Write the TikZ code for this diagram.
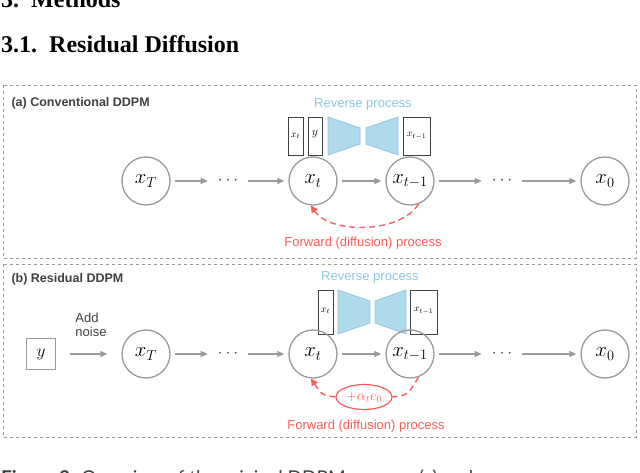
\documentclass[tikz,border=0pt]{standalone}
\usepackage{fontspec}
\setmainfont{Liberation Serif}
\newfontfamily\mysans{Liberation Sans}
\newfontfamily\capf{Lato}
\usetikzlibrary{arrows.meta,shapes.geometric}
\definecolor{cg}{HTML}{9A9A9A}
\definecolor{tg}{HTML}{404040}
\definecolor{bl}{HTML}{8CC8E2}
\definecolor{blf}{HTML}{AEDAEC}
\definecolor{rd}{HTML}{FF5A5A}
\begin{document}
\begin{tikzpicture}[x=1pt,y=-1pt,
  st/.style={circle,draw=cg,line width=1.3pt,minimum size=48pt,inner sep=0pt,font=\fontsize{20}{20}\selectfont},
  ar/.style={-{Triangle[length=7pt,width=6pt]},draw=cg,line width=1.2pt,shorten >=4pt,shorten <=4pt},
  panel/.style={draw=cg,dashed,line width=0.8pt},
  plab/.style={font=\mysans\bfseries\fontsize{12.5}{12.5}\selectfont,text=tg,anchor=west},
  rev/.style={font=\mysans\fontsize{13}{13}\selectfont,text=bl},
  fwd/.style={font=\mysans\fontsize{13}{13}\selectfont,text=rd},
  ibox/.style={draw=tg,line width=1pt,fill=white,inner sep=0pt,anchor=north west},
  trap/.style={draw=bl,fill=blf,line width=0.8pt},
  dots/.style={font=\fontsize{16}{16}\selectfont,text=tg,inner sep=6pt}]
\useasboundingbox (0,0) rectangle (640,473);
% headings
\node[anchor=base west,font=\bfseries\fontsize{24}{24}\selectfont,inner sep=0pt] (h0) at (1,8) {3.\ \ Methods};
\node[anchor=base west,font=\bfseries\fontsize{24}{24}\selectfont,inner sep=0pt] (h1) at (1,53) {3.1.\ \ Residual Diffusion};
\node[anchor=base west,font=\capf\fontsize{19}{19}\selectfont,inner sep=0pt,text=tg] (cap) at (1,484) {\textbf{Figure 2:} Overview of the original DDPM process (a) and};
% ---------- panel a
\draw[panel] (3,85) rectangle (636,258);
\node[plab] (la) at (8,103) {(a) Conventional DDPM};
\node[rev] (ra) at (363,104) {Reverse process};
\node[ibox,minimum width=15pt,minimum height=38pt] (a1) at (288,117) {};
\node[font=\fontsize{10}{10}\selectfont] (a1t) at (295.5,136) {$x_t$};
\node[ibox,minimum width=14pt,minimum height=38pt] (a2) at (308,117) {};
\node[font=\fontsize{12}{12}\selectfont] (a2t) at (315,134) {$y$};
\draw[trap] (328,117) -- (360,128) -- (360,144) -- (328,155) -- cycle;
\draw[trap] (366,128) -- (398,117) -- (398,155) -- (366,144) -- cycle;
\node[ibox,minimum width=27pt,minimum height=38pt] (a3) at (403,117) {};
\node[font=\fontsize{10}{10}\selectfont] (a3t) at (416.5,136) {$x_{t-1}$};
\node[st] (aT) at (146,181) {$x_T$};
\node[dots] (ad1) at (228,181) {$\cdots$};
\node[st] (at) at (313,181) {$x_t$};
\node[st] (at1) at (410,181) {$x_{t-1}$};
\node[dots] (ad2) at (502,181) {$\cdots$};
\node[st] (a0) at (605,181) {$x_0$};
\draw[ar] (aT) -- (ad1);
\draw[ar] (ad1) -- (at);
\draw[ar] (at) -- (at1);
\draw[ar] (at1) -- (ad2);
\draw[ar] (ad2) -- (a0);
\draw[rd,line width=1.4pt,dash pattern=on 6pt off 4pt,-{Triangle[length=7pt,width=7pt]}] (at1.-70) .. controls (400,234) and (330,234) .. (at.-95);
\node[fwd] (fa) at (363,243) {Forward (diffusion) process};
% ---------- panel b
\draw[panel] (3,264) rectangle (636,437);
\node[plab] (lb) at (8,279) {(b) Residual DDPM};
\node[rev] (rb) at (370,277) {Reverse process};
\node[ibox,minimum width=15pt,minimum height=44pt] (b1) at (318,290) {};
\node[font=\fontsize{10}{10}\selectfont] (b1t) at (325.5,311) {$x_t$};
\draw[trap] (338,290) -- (370,301) -- (370,323) -- (338,334) -- cycle;
\draw[trap] (375,301) -- (406,290) -- (406,334) -- (375,323) -- cycle;
\node[ibox,minimum width=27pt,minimum height=44pt] (b3) at (410,290) {};
\node[font=\fontsize{10}{10}\selectfont] (b3t) at (423.5,311) {$x_{t-1}$};
\node[draw=cg,line width=1.5pt,minimum width=29pt,minimum height=31pt,font=\fontsize{19}{19}\selectfont] (by) at (41,354) {$y$};
\node[font=\mysans\fontsize{13}{14}\selectfont,text=tg,align=left] (an) at (91,325) {Add\\noise};
\node[st] (bT) at (146,354) {$x_T$};
\node[dots] (bd1) at (228,354) {$\cdots$};
\node[st] (bt) at (313,354) {$x_t$};
\node[st] (bt1) at (410,354) {$x_{t-1}$};
\node[dots] (bd2) at (502,354) {$\cdots$};
\node[st] (b0) at (605,354) {$x_0$};
\draw[ar,shorten <=14pt,shorten >=14pt] (by) -- (bT);
\draw[ar] (bT) -- (bd1);
\draw[ar] (bd1) -- (bt);
\draw[ar] (bt) -- (bt1);
\draw[ar] (bt1) -- (bd2);
\draw[ar] (bd2) -- (b0);
\node[draw=rd,ellipse,line width=1.2pt,text=rd,inner sep=1pt,minimum width=56pt,minimum height=25pt,font=\fontsize{14}{14}\selectfont] (eb) at (364,397) {$+\alpha_t e_0$};
\draw[rd,line width=1.4pt,dash pattern=on 6pt off 4pt] (bt1.-70) .. controls (408,395) .. (eb.east);
\draw[rd,line width=1.4pt,dash pattern=on 6pt off 4pt,-{Triangle[length=7pt,width=7pt]}] (eb.west) .. controls (322,395) .. (bt.-95);
\node[fwd] (fb) at (366,426) {Forward (diffusion) process};
\end{tikzpicture}
\end{document}
